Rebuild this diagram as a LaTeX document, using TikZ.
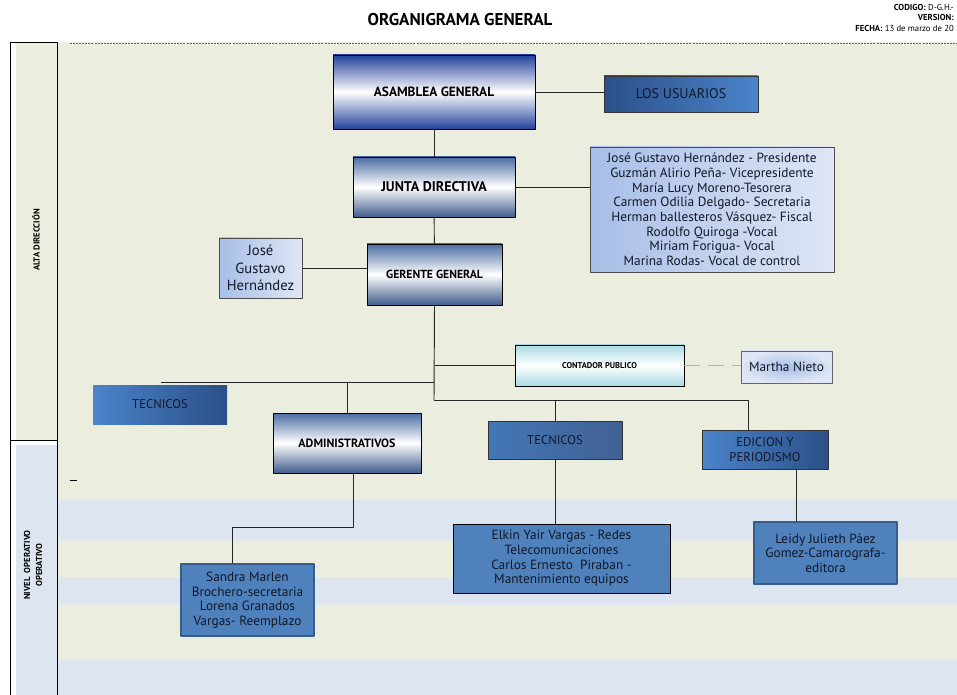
\documentclass[tikz,border=0pt]{standalone}
\usepackage{fontspec}
\setmainfont{PT Sans}
\usetikzlibrary{positioning}

\definecolor{bgGreen}{HTML}{EBEEDE}
\definecolor{bgBlue}{HTML}{DCE5F0}
\definecolor{royal}{HTML}{22409C}
\definecolor{steel}{HTML}{4A6CA3}
\definecolor{aqua}{HTML}{A8DAE2}
\definecolor{boxBlue}{HTML}{4F81BD}
\definecolor{boxEdge}{HTML}{385D8A}
\definecolor{blueLight}{HTML}{4A84CA}
\definecolor{blueDark}{HTML}{2B4F88}
\definecolor{paleL}{HTML}{A7BEE8}
\definecolor{paleR}{HTML}{DFE6F5}
\definecolor{dashBlue}{HTML}{9DB6D8}
\definecolor{inkDark}{HTML}{111827}

\begin{document}
\begin{tikzpicture}[
    x=0.75pt, y=-0.75pt, line join=round,
    boxSize/.style 2 args={minimum width=#1*0.75pt, minimum height=#2*0.75pt,
      inner sep=1pt, align=center},
    headBox/.style={draw=black, line width=0.6pt, font=\bfseries\fontsize{9}{11}\selectfont,
      shading=axis, top color=steel, bottom color=steel!85!black, middle color=white},
    blueBox/.style={draw=black!80, line width=0.5pt, text=inkDark,
      font=\fontsize{9.5}{11}\selectfont},
    paleBox/.style={draw=black!70, line width=0.5pt, left color=paleL, right color=paleR,
      text=inkDark},
    staffBox/.style={draw=boxEdge, line width=0.8pt, fill=boxBlue, text=inkDark,
      font=\fontsize{10}{11}\selectfont},
    link/.style={draw=black!85, line width=0.7pt}
  ]

  % ------------------ Page frame ------------------
  \useasboundingbox (0,0) rectangle (957,695);
  \fill[white] (0,0) rectangle (957,695);

  % ------------------ Background bands ------------------
  \fill[bgGreen] (57,42) rectangle (957,695);
  \fill[bgBlue] (57,500) rectangle (957,541);
  \fill[bgBlue] (57,578) rectangle (957,605);
  \fill[bgBlue] (57,659) rectangle (957,695);
  \fill[bgGreen] (16,42) rectangle (57,440);
  \fill[bgBlue] (16,445) rectangle (57,695);
  \draw[black, line width=0.7pt] (10,695) -- (10,42) -- (57,42) -- (57,695);
  \draw[black, line width=0.7pt] (10,440) -- (57,440);
  \draw[black!60, dashed, dash pattern=on 1.5pt off 0.8pt, line width=0.5pt]
    (70,43) -- (957,43);
  \draw[black, line width=0.7pt] (70,480) -- (77,480);

  % ------------------ Header ------------------
  \node[font=\bfseries\fontsize{12.8}{15}\selectfont] (title) at (460,20)
    {ORGANIGRAMA GENERAL};
  \node[anchor=east, inner sep=0, font=\fontsize{6.5}{7}\selectfont] (codigo) at (954,7)
    {\textbf{CODIGO:} D-G.H.-};
  \node[anchor=east, inner sep=0, font=\bfseries\fontsize{6.5}{7}\selectfont] (version) at (954,17)
    {VERSION:};
  \node[anchor=east, inner sep=0, font=\fontsize{6.5}{7}\selectfont] (fecha) at (954,28)
    {\textbf{FECHA:} 13 de marzo de 20};

  % ------------------ Level labels ------------------
  \node[rotate=90, font=\bfseries\fontsize{6.5}{7}\selectfont] (alta) at (36,240)
    {ALTA DIRECCIÓN};
  \node[rotate=90, align=center, font=\bfseries\fontsize{6.5}{9}\selectfont] (nivel) at (33,565)
    {NIVEL\ \ OPERATIVO\\OPERATIVO};

  % ------------------ Top management ------------------
  \node[headBox, boxSize={202}{74}, top color=royal, bottom color=royal,
    middle color=white, font=\bfseries\fontsize{10}{12}\selectfont] (asamblea) at (434,92)
    {ASAMBLEA GENERAL};
  \node[blueBox, boxSize={154}{36}, left color=blueDark, right color=blueLight,
    font=\fontsize{10.5}{12}\selectfont] (usuarios) at (681,94) {LOS USUARIOS};
  \node[headBox, boxSize={162}{60}, font=\bfseries\fontsize{10.5}{12}\selectfont]
    (junta) at (434,187) {JUNTA DIRECTIVA};
  \node[paleBox, boxSize={244}{125}, font=\fontsize{10}{11}\selectfont] (miembros) at (712,209.5)
    {José Gustavo Hernández - Presidente\\
     Guzmán Alirio Peña- Vicepresidente\\
     María Lucy Moreno-Tesorera\\
     Carmen Odilia Delgado- Secretaria\\
     Herman ballesteros Vásquez- Fiscal\\
     Rodolfo Quiroga -Vocal\\
     Miriam Forigua- Vocal\\
     Marina Rodas- Vocal de control};
  \node[headBox, boxSize={135}{61}, font=\bfseries\fontsize{8.8}{10}\selectfont]
    (gerente) at (434.5,274.5) {GERENTE GENERAL};
  \node[paleBox, boxSize={83}{60}, font=\fontsize{11}{13}\selectfont] (jose) at (260.5,268)
    {José\\Gustavo\\Hernández};

  % ------------------ Support ------------------
  \node[headBox, boxSize={169}{41}, top color=aqua, bottom color=aqua, middle color=white,
    font=\bfseries\fontsize{6.3}{7}\selectfont] (contador) at (599.5,365.5) {CONTADOR PUBLICO};
  \node[draw=black!60, line width=0.6pt, boxSize={91}{32}, inner color=paleL, outer color=paleR,
    text=inkDark, font=\fontsize{10}{12}\selectfont] (martha) at (786.5,367) {Martha Nieto};

  % ------------------ Areas ------------------
  \node[blueBox, boxSize={134}{39}, draw=none, left color=blueLight, right color=blueDark]
    (tecnicosA) at (160,404.5) {TECNICOS};
  \node[headBox, boxSize={148}{60}] (admin) at (347,443) {ADMINISTRATIVOS};
  \node[blueBox, boxSize={134}{38}, left color=blueLight!90!black, right color=blueDark!90]
    (tecnicosB) at (555,440) {TECNICOS};
  \node[blueBox, boxSize={126}{39}, left color=blueLight, right color=blueDark]
    (edicion) at (765,449.5) {EDICION Y\\PERIODISMO};

  % ------------------ Staff ------------------
  \node[staffBox, boxSize={133}{72}] (sandra) at (247.5,600)
    {Sandra Marlen\\Brochero-secretaria\\Lorena Granados\\Vargas- Reemplazo};
  \node[staffBox, draw=black, line width=0.6pt, boxSize={217}{69}] (elkin) at (561.5,558.5)
    {Elkin Yair Vargas - Redes\\Telecomunicaciones\\Carlos Ernesto\ \ Piraban -\\Mantenimiento equipos};
  \node[staffBox, boxSize={143}{62}] (leidy) at (825.5,553)
    {Leidy Julieth Páez\\Gomez-Camarografa-\\editora};

  % ------------------ Connectors ------------------
  \coordinate (trunkEnd) at (434,400);
  \coordinate (leftBus) at (161,382);
  \coordinate (edBus) at (748,400);
  \coordinate (adminDrop) at (353,527);
  \coordinate (sandraTop) at (232,527);
  \coordinate (edDrop) at (796,469);

  \draw[link] (asamblea.east) -- (asamblea.east -| usuarios.west);
  \draw[link] (asamblea) -- (junta);
  \draw[link] (junta.east) -- (junta.east -| miembros.west);
  \draw[link] (junta) -- (gerente);
  \draw[link] (jose.east) -- (jose.east -| gerente.west);
  \draw[link] (gerente.south) -- (trunkEnd);
  \draw[link] (gerente.south |- contador.west) -- (contador.west);
  \draw[link] (leftBus) -- (leftBus -| trunkEnd);
  \draw[link] (admin.north |- leftBus) -- (admin.north);
  \draw[link] (trunkEnd) -- (edBus) -- (edBus |- edicion.north);
  \draw[link] (tecnicosB.north |- trunkEnd) -- (tecnicosB.north);
  \draw[link] (adminDrop |- admin.south) -- (adminDrop) -- (sandraTop) -- (sandraTop |- sandra.north);
  \draw[link] (tecnicosB.south) -- (tecnicosB.south |- elkin.north);
  \draw[link] (edDrop |- edicion.south) -- (edDrop |- leidy.north);
  \draw[draw=dashBlue, dashed, dash pattern=on 12pt off 6pt, line width=1.2pt]
    (contador.east) -- (contador.east -| martha.west);

\end{tikzpicture}
\end{document}
